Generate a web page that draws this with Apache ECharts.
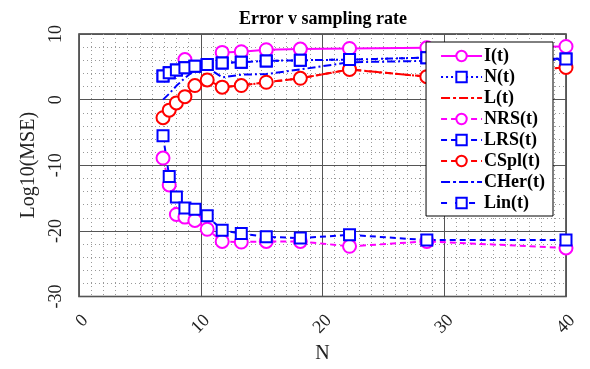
<!DOCTYPE html>
<html>
<head>
<meta charset="utf-8">
<script src="https://cdn.jsdelivr.net/npm/echarts@6/dist/echarts.min.js"></script>
<style>
  html, body { margin: 0; padding: 0; background: #fff; }
  #main { width: 590px; height: 369px; }
</style>
</head>
<body>
<div id="main"></div>
<script>
// N values (sampling) on the x axis
let nVals = [6.9, 7.41, 8.0, 8.7, 9.52, 10.53, 11.76, 13.33, 15.38, 18.18, 22.22, 28.57, 40];

// Log10(MSE) per method
let iT    = [null, null, null, 6.1, null, null, 7.2, 7.3, 7.6, 7.7, 7.8, 7.9, 8.1];
let nT    = [3.6, 4.1, 4.5, 4.85, 5.1, 5.35, 5.6, 5.7, 5.9, 6.0, 6.1, 6.4, 6.2];
let lT    = [-2.75, -1.6, -0.5, 0.45, 2.15, 3.0, 1.9, 2.15, 2.65, 3.25, 4.6, 3.5, 4.9];
let nrsT  = [-8.9, -13.0, -17.5, -17.9, -18.4, -19.75, -21.6, -21.7, -21.6, -21.6, -22.35, -21.6, -22.6];
let lrsT  = [-5.5, -11.7, -14.85, -16.5, -16.7, -17.7, -19.9, -20.4, -20.9, -21.1, -20.6, -21.4, -21.4];
let csplT = [-2.75, -1.6, -0.5, 0.45, 2.15, 3.0, 1.9, 2.15, 2.65, 3.25, 4.6, 3.5, 4.9];
let cherT = [0.0, 0.9, 2.1, 3.3, 4.5, 4.9, 3.4, 3.8, 3.9, 4.6, 5.7, 5.9, 6.1];
let linT  = [3.6, 4.1, 4.5, 4.85, 5.1, 5.35, 5.6, 5.7, 5.9, 6.0, 6.1, 6.4, 6.2];

let xTicks = [0, 10, 20, 30, 40];
let yTicks = [-30, -20, -10, 0, 10];

let serif = 'Liberation Serif';

// dash-dot stroke for legend entries that have no marker
let dashDotIcon = 'path://M0,0h9v2h-9z M12,0h3v2h-3z M18,0h9v2h-9z M30,0h3v2h-3z M36,0h5v2h-5z';

function pairs(arr) {
    return nVals.map((n, i) => [n, arr[i]]);
}

// one line series
function mk(name, arr, color, dash, symbol, size) {
    return {
        name: name,
        type: 'line',
        data: pairs(arr),
        symbol: symbol,
        symbolSize: size,
        showSymbol: symbol !== 'none',
        connectNulls: false,
        animation: false,
        itemStyle: { color: '#fff', borderColor: color, borderWidth: 2 },
        lineStyle: { color: color, width: 2, type: dash }
    };
}

let myChart = echarts.init(document.getElementById('main'));

let option = {
    backgroundColor: '#fff',
    title: {
        text: 'Error v sampling rate',
        left: 318,
        textAlign: 'center',
        top: 5,
        textStyle: { fontFamily: serif, fontWeight: 'bold', fontSize: 18, color: '#000' }
    },
    legend: {
        orient: 'vertical',
        right: 37,
        top: 42,
        backgroundColor: '#fff',
        borderColor: '#000',
        borderWidth: 1,
        borderRadius: 0,
        padding: [5, 8, 4, 14],
        itemWidth: 41,
        itemHeight: 13,
        itemGap: 3,
        textStyle: { fontFamily: serif, fontWeight: 'bold', fontSize: 18, color: '#000', padding: [0, 0, 0, -3] },
        data: [
            { name: 'I(t)' }, { name: 'N(t)' },
            { name: 'L(t)', icon: dashDotIcon, itemStyle: { color: '#ff0000', borderWidth: 0 } },
            { name: 'NRS(t)' }, { name: 'LRS(t)' }, { name: 'CSpl(t)' },
            { name: 'CHer(t)', icon: dashDotIcon, itemStyle: { color: '#0000ff', borderWidth: 0 } },
            { name: 'Lin(t)' }
        ]
    },
    grid: {
        left: 79,
        right: 24,
        top: 34,
        bottom: 62,
        show: true,
        borderColor: '#333',
        borderWidth: 1.5
    },
    xAxis: {
        type: 'value',
        min: xTicks[0],
        max: xTicks[xTicks.length - 1],
        interval: 10,
        name: 'N',
        nameLocation: 'middle',
        nameGap: 47,
        nameTextStyle: { fontFamily: serif, fontSize: 20, color: '#222' },
        axisLine: { show: false },
        axisTick: { show: false },
        axisLabel: {
            rotate: 45,
            margin: 15,
            align: 'right',
            verticalAlign: 'top',
            fontFamily: serif, fontSize: 18, color: '#222'
        },
        splitLine: { show: true, lineStyle: { color: '#555', width: 1 } },
        minorSplitLine: { show: true, lineStyle: { color: '#999', width: 1, type: [1, 3] } },
        minorTick: { show: false, splitNumber: 10 }
    },
    yAxis: {
        type: 'value',
        min: yTicks[0],
        max: yTicks[yTicks.length - 1],
        interval: 10,
        name: 'Log10(MSE)',
        nameLocation: 'middle',
        nameGap: 40,
        nameTextStyle: { fontFamily: serif, fontSize: 20, color: '#222' },
        axisLine: { show: false },
        axisTick: { show: false },
        axisLabel: {
            rotate: 90,
            margin: 14,
            align: 'center',
            verticalAlign: 'bottom',
            fontFamily: serif, fontSize: 18, color: '#222'
        },
        splitLine: { show: true, lineStyle: { color: '#555', width: 1 } },
        minorSplitLine: { show: true, lineStyle: { color: '#999', width: 1, type: [1, 3] } },
        minorTick: { show: false, splitNumber: 5 }
    },
    series: [
        mk('I(t)', iT, '#ff00ff', 'solid', 'circle', 13),
        mk('N(t)', nT, '#0000ff', [2, 3], 'rect', 11),
        mk('L(t)', lT, '#ff0000', [8, 3, 2, 3], 'none', 0),
        mk('NRS(t)', nrsT, '#ff00ff', [6, 4], 'circle', 13),
        mk('LRS(t)', lrsT, '#0000ff', [6, 4], 'rect', 11),
        mk('CSpl(t)', csplT, '#ff0000', [6, 4], 'circle', 13),
        mk('CHer(t)', cherT, '#0000ff', [8, 3, 2, 3], 'none', 0),
        mk('Lin(t)', linT, '#0000ff', [6, 8], 'rect', 11)
    ]
};

myChart.setOption(option);
</script>
</body>
</html>
